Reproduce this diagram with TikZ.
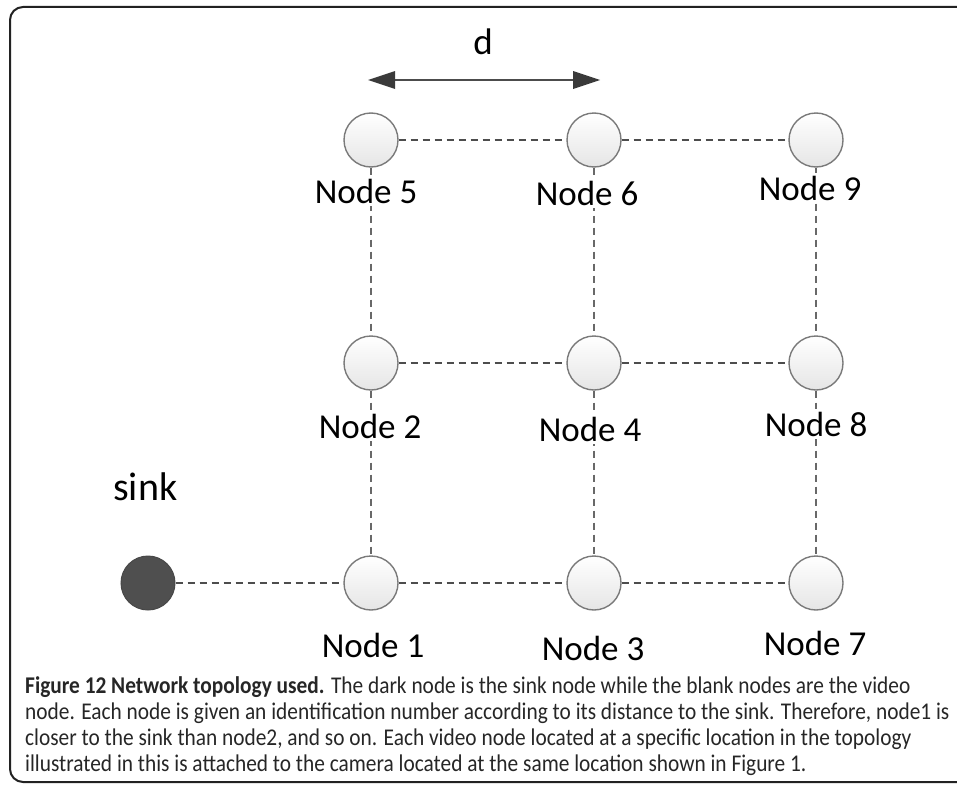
\documentclass[tikz,border=0pt]{standalone}
\usepackage{fontspec}
\setmainfont{Carlito}
\newfontfamily\capfont{Carlito}[FakeStretch=0.89]
\usetikzlibrary{arrows.meta}
\definecolor{linkgray}{HTML}{4D4D4D}
\definecolor{rimgray}{HTML}{7A7A7A}
\definecolor{sinkgray}{HTML}{4F4F4F}
\definecolor{framegray}{HTML}{222222}
\definecolor{tipgray}{HTML}{3A3A3A}
\tikzset{
  frameline/.style={draw=framegray, line width=2pt, rounded corners=13pt},
  vnode/.style={circle, minimum size=54pt, inner sep=0pt, draw=rimgray,
    line width=1.4pt, top color=white, bottom color=black!10},
  sinknode/.style={circle, minimum size=54pt, inner sep=0pt, draw=sinkgray!90!black,
    line width=1pt, fill=sinkgray},
  hlink/.style={draw=linkgray, line width=2.2pt, dash pattern=on 7.5pt off 4.5pt},
  vlink/.style={draw=linkgray!85, line width=1.6pt, dash pattern=on 7pt off 5pt},
  lbl/.style={fill=white, inner sep=3pt, anchor=base, font=\fontsize{35}{40}\selectfont},
  dimarrow/.style={draw=black!70, line width=2pt,
    {Triangle[length=27pt,width=18pt,color=tipgray,fill=tipgray,line width=0pt]}-{Triangle[length=27pt,width=18pt,color=tipgray,fill=tipgray,line width=0pt]}},
  captext/.style={anchor=base west, inner sep=0pt, text=black!85,
    font=\capfont\fontsize{24}{27}\selectfont}
}
\begin{document}
\begin{tikzpicture}[x=1pt,y=-1pt]
\useasboundingbox (0,0) rectangle (957,784);
% outer frame, partly running off the page
\begin{scope}
  \clip (0,0) rectangle (957,784);
  \draw[frameline] (10,7) rectangle (990,782);
\end{scope}

% distance marker
\coordinate (dl) at (368,80);
\coordinate (dr) at (600,80);
\draw[dimarrow] (dl) -- (dr);
\node[anchor=base, inner sep=0pt, font=\fontsize{37}{40}\selectfont] (dlabel) at (483,55) {d};

% sensor grid
\node[sinknode] (sink) at (148,583) {};
\node[vnode] (n1) at (371,583) {};
\node[vnode] (n3) at (594,583) {};
\node[vnode] (n7) at (816,583) {};
\node[vnode] (n2) at (371,363) {};
\node[vnode] (n4) at (594,363) {};
\node[vnode] (n8) at (816,363) {};
\node[vnode] (n5) at (371,140) {};
\node[vnode] (n6) at (594,140) {};
\node[vnode] (n9) at (816,140) {};

% links
\draw[hlink] (sink) -- (n1);
\draw[hlink] (n1) -- (n3);
\draw[hlink] (n3) -- (n7);
\draw[hlink] (n2) -- (n4);
\draw[hlink] (n4) -- (n8);
\draw[hlink] (n5) -- (n6);
\draw[hlink] (n6) -- (n9);
\draw[vlink] (n5) -- (n2);
\draw[vlink] (n2) -- (n1);
\draw[vlink] (n6) -- (n4);
\draw[vlink] (n4) -- (n3);
\draw[vlink] (n9) -- (n8);
\draw[vlink] (n8) -- (n7);

% labels
\node[lbl] (l5) at (366,203) {Node 5};
\node[lbl] (l6) at (587,205) {Node 6};
\node[lbl] (l9) at (810,200) {Node 9};
\node[lbl] (l2) at (370,438) {Node 2};
\node[lbl] (l4) at (590,441) {Node 4};
\node[lbl] (l8) at (816,436) {Node 8};
\node[lbl] (l1) at (373,657) {Node 1};
\node[lbl] (l3) at (593,660) {Node 3};
\node[lbl] (l7) at (815,655) {Node 7};
\node[anchor=base west, inner sep=0pt, font=\fontsize{40}{44}\selectfont] (lsink) at (113,500) {sink};

% caption
\node[captext] (cap1) at (25,693) {\textbf{Figure 12 Network topology used.} The dark node is the sink node while the blank nodes are the video};
\node[captext] (cap2) at (25,719) {node. Each node is given an identification number according to its distance to the sink. Therefore, node1 is};
\node[captext] (cap3) at (25,745) {closer to the sink than node2, and so on. Each video node located at a specific location in the topology};
\node[captext] (cap4) at (25,771) {illustrated in this is attached to the camera located at the same location shown in Figure 1.};
\end{tikzpicture}
\end{document}
